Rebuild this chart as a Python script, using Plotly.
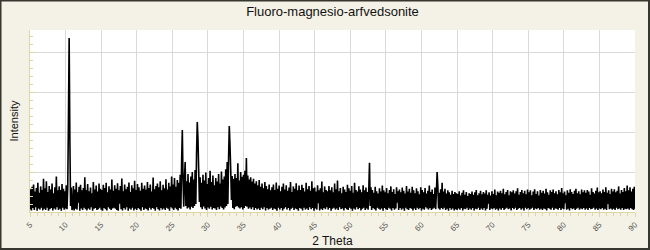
import numpy as np
import plotly.graph_objects as go

# 2-theta grid, 0.1 degree step from 5.0 to 90.0
two_theta = np.round(np.arange(5.0, 90.0001, 0.1), 1)

# Intensity (arbitrary units), 20 values per 2 degrees
intensity = [
    22,72,19,78,25,84,20,66,27,75,18,88,24,63,21,79,26,70,19,98,
    23,74,20,92,26,65,18,80,22,71,25,86,19,62,24,77,21,104,27,69,
    20,79,23,70,18,85,26,73,21,67,24,82,22,74,245,450,200,30,76,20,
    25,80,19,71,23,89,21,64,38,78,18,83,24,69,20,75,26,102,22,70,
    19,85,24,67,21,76,27,62,18,90,23,71,25,81,20,66,22,86,26,73,
    21,70,18,83,25,75,22,88,19,64,27,79,23,71,20,96,24,68,26,82,
    23,73,20,87,18,69,36,80,22,99,19,67,25,84,21,72,27,78,18,89,
    24,65,21,82,26,74,19,93,23,70,20,85,25,77,22,68,18,88,27,73,
    20,81,24,71,22,90,19,75,26,84,21,66,25,101,23,72,18,80,27,86,
    22,77,19,92,25,69,21,83,24,74,20,97,26,71,23,88,18,79,27,104,
    24,84,20,100,26,78,22,95,19,88,25,108,23,140,220,95,28,98,140,30,
    92,24,110,26,89,21,104,28,115,25,96,30,120,35,160,240,197,120,40,102,
    27,88,22,108,29,94,24,114,20,85,26,100,23,118,28,90,21,106,25,82,
    24,100,20,91,27,110,22,86,29,116,25,96,21,104,26,122,30,140,35,150,
    230,180,120,45,105,25,98,22,110,28,100,30,137,26,94,24,115,27,103,21,
    108,25,118,30,150,28,106,23,96,26,102,22,91,27,98,20,86,25,92,21,
    82,24,95,20,78,26,86,22,74,27,90,19,80,25,72,21,84,23,69,26,
    77,20,84,24,70,22,89,18,73,26,81,21,67,25,78,19,86,23,71,27,
    82,21,68,25,76,19,90,23,65,26,79,20,73,24,87,22,69,18,81,25,
    70,23,83,19,75,26,66,21,88,24,72,20,80,27,68,22,92,25,74,18,
    76,24,66,21,82,37,69,19,74,23,91,20,64,25,79,22,70,27,67,21,
    80,25,69,18,77,23,64,26,86,21,72,24,94,20,67,27,75,22,62,24,
    78,19,71,25,65,22,83,20,74,26,68,23,80,18,63,24,88,21,70,27,
    66,22,79,25,71,19,64,23,82,26,69,20,76,24,65,21,73,138,30,77,
    20,70,25,63,22,78,19,67,26,61,23,74,21,66,24,81,18,69,25,64,
    22,75,20,62,26,70,23,79,19,65,25,72,21,60,24,77,38,67,20,71,
    25,64,21,76,24,68,18,61,26,80,22,66,20,73,25,63,23,78,19,69,
    24,62,20,74,26,67,22,59,25,77,19,70,23,64,21,75,27,61,24,68,
    21,81,25,65,20,71,23,60,26,76,22,67,115,79,24,63,21,72,25,88,
    22,66,26,73,20,61,23,69,18,64,25,58,21,68,24,60,19,65,22,62,
    20,60,24,67,21,56,25,63,19,69,23,58,22,65,26,55,20,62,24,60,
    21,66,25,58,19,64,23,70,22,57,26,62,20,68,24,59,21,65,25,61,
    19,69,23,58,36,64,20,56,24,67,22,60,25,71,21,57,23,66,19,63,
    24,68,21,62,25,73,20,59,23,65,26,70,22,57,24,67,19,64,25,69,
    22,61,26,67,20,74,23,58,25,65,21,70,24,62,19,68,26,59,22,71,
    25,64,21,69,23,57,26,66,20,72,24,60,22,67,25,56,21,70,23,63,
    20,68,24,61,22,73,19,64,25,58,23,69,21,65,26,71,20,62,24,67,
    23,59,21,70,25,64,20,75,24,62,22,66,37,57,21,69,23,63,19,72,
    25,65,22,60,24,68,20,73,23,62,26,67,21,59,24,71,22,64,25,69,
    21,63,24,70,20,66,25,58,22,74,23,65,26,61,21,68,24,76,20,64,
    24,67,22,62,25,71,21,65,23,77,20,63,35,69,22,60,24,73,21,66,
    23,72,20,64,26,68,22,79,24,61,21,70,25,65,20,75,23,67,22,81,
    24,69,21,77,25,66,22,73,20,78,23,
]

x_ticks = [5, 10, 15, 20, 25, 30, 35, 40, 45, 50, 55, 60, 65, 70, 75, 80, 85, 90]
x_tick_text = [str(v) for v in x_ticks]
y_grid = [115, 215, 315, 415]

axis_col = "#ddd6a0"
grid_col = "#d9d9d9"
bg_col = "#f4f2e6"

fig = go.Figure()
fig.add_trace(go.Scatter(
    x=two_theta, y=intensity, mode="lines",
    line=dict(color="black", width=1.6, simplify=False),
    hoverinfo="skip", showlegend=False,
))

L, R, T, B = 30, 15, 30, 38
W, H = 650, 250
pw, ph = W - L - R, H - T - B

fig.update_layout(
    width=W, height=H,
    margin=dict(l=L, r=R, t=T, b=B, autoexpand=False),
    paper_bgcolor=bg_col, plot_bgcolor="white",
    font=dict(family="Liberation Sans, Arial, sans-serif", color="#222"),
    title=dict(text="Fluoro-magnesio-arfvedsonite", x=0.5, xref="paper",
               xanchor="center", y=1 - 11 / H, yanchor="middle",
               font=dict(size=13, color="#111")),
    xaxis=dict(
        range=[5, 90], tickmode="array", tickvals=x_ticks, ticktext=x_tick_text,
        tickangle=-45, tickfont=dict(size=8, color="#555"), automargin=False,
        showgrid=True, gridcolor=grid_col, gridwidth=1,
        showline=True, linecolor=axis_col, linewidth=1,
        ticks="outside", ticklen=4, tickcolor=axis_col,
        minor=dict(dtick=1, ticks="outside", ticklen=3, tickcolor=axis_col, showgrid=False),
        zeroline=False,
        title=dict(text="2 Theta", font=dict(size=12, color="#111"), standoff=4),
    ),
    yaxis=dict(
        range=[15, 15 + 2.5 * ph], tickmode="array", tickvals=y_grid,
        showticklabels=False, automargin=False,
        showgrid=True, gridcolor=grid_col, gridwidth=1,
        showline=True, linecolor=axis_col, linewidth=1,
        ticks="inside", ticklen=5, tickcolor=axis_col,
        minor=dict(tickvals=[15 + 20 * k for k in range(1, 23)], ticks="inside",
                   ticklen=3, tickcolor=axis_col, showgrid=False),
        zeroline=False,
        title=dict(text="Intensity", font=dict(size=11, color="#111"), standoff=8),
    ),
    shapes=[dict(
        type="rect", xref="paper", yref="paper",
        x0=-(L - 0.5) / pw, x1=1 + (R - 1) / pw,
        y0=-(B - 1) / ph, y1=1 + (T - 0.5) / ph,
        line=dict(color="#37372f", width=2), fillcolor="rgba(0,0,0,0)", layer="above",
    )],
)

fig.write_html("out.html")
